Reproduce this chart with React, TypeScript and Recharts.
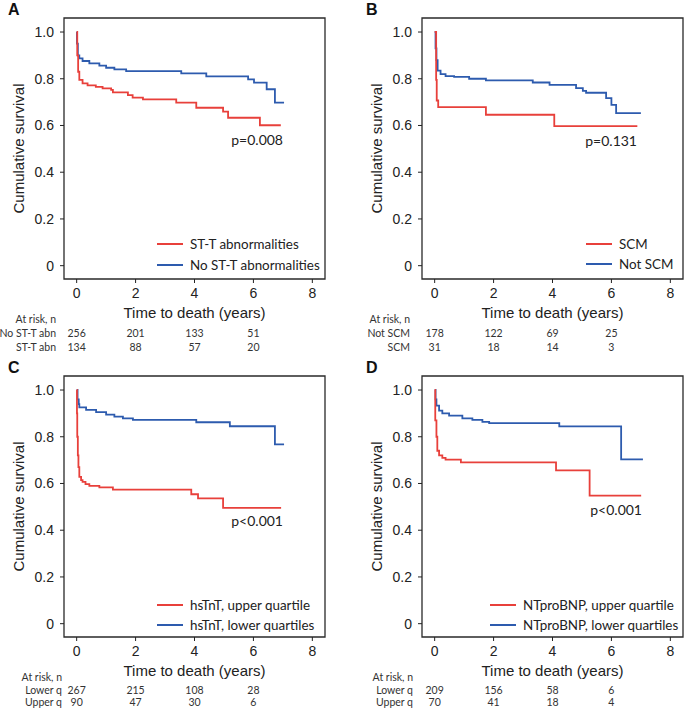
import { LineChart, Line, XAxis, YAxis, ReferenceArea, Legend } from "recharts";

// ---- axes ----
const X_TICKS = [0, 2, 4, 6, 8];
const Y_TICKS = [0, 0.2, 0.4, 0.6, 0.8, 1.0];
const X_DOMAIN: [number, number] = [-0.43, 8.43];
const Y_DOMAIN: [number, number] = [-0.057, 1.06];

// ---- A: ST-T abnormalities ----
const A_BLUE_T = [0, 0.01, 0.04, 0.09, 0.2, 0.43, 0.77, 1.0, 1.28, 1.68, 3.55, 4.4, 5.82, 6.02, 6.45, 6.73, 7.04];
const A_BLUE_S = [1.0, 0.95, 0.9, 0.887, 0.876, 0.866, 0.856, 0.847, 0.84, 0.833, 0.823, 0.81, 0.797, 0.783, 0.755, 0.698, 0.698];
const A_RED_T = [0, 0.02, 0.05, 0.09, 0.2, 0.37, 0.65, 0.88, 1.17, 1.23, 1.74, 1.9, 2.25, 3.38, 4.06, 4.97, 5.14, 6.22, 6.93];
const A_RED_S = [1.0, 0.9, 0.83, 0.795, 0.78, 0.772, 0.765, 0.759, 0.752, 0.742, 0.73, 0.719, 0.712, 0.698, 0.676, 0.659, 0.633, 0.601, 0.601];
const A_ROWS = ["No ST-T abn", "ST-T abn"];
const A_RISK_1 = [256, 201, 133, 51];
const A_RISK_2 = [134, 88, 57, 20];

// ---- B: SCM ----
const B_BLUE_T = [0, 0.03, 0.06, 0.1, 0.2, 0.37, 0.66, 1.17, 1.74, 3.33, 3.9, 4.8, 5.03, 5.14, 5.82, 6.0, 6.16, 7.0];
const B_BLUE_S = [1.0, 0.93, 0.88, 0.835, 0.82, 0.811, 0.808, 0.8, 0.793, 0.784, 0.774, 0.76, 0.748, 0.74, 0.717, 0.688, 0.653, 0.653];
const B_RED_T = [0, 0.05, 0.07, 0.12, 1.74, 4.06, 6.88];
const B_RED_S = [1.0, 0.795, 0.707, 0.679, 0.646, 0.597, 0.597];
const B_ROWS = ["Not SCM", "SCM"];
const B_RISK_1 = [178, 122, 69, 25];
const B_RISK_2 = [31, 18, 14, 3];

// ---- C: hsTnT ----
const C_BLUE_T = [0, 0.03, 0.07, 0.09, 0.32, 0.66, 1.0, 1.28, 1.57, 1.91, 4.06, 5.2, 6.73, 7.04];
const C_BLUE_S = [1.0, 0.96, 0.94, 0.926, 0.915, 0.905, 0.895, 0.886, 0.879, 0.872, 0.862, 0.845, 0.767, 0.767];
const C_RED_T = [0, 0.01, 0.02, 0.04, 0.06, 0.09, 0.15, 0.2, 0.3, 0.43, 0.77, 1.23, 3.89, 4.12, 4.97, 6.94];
const C_RED_S = [1.0, 0.9, 0.8, 0.72, 0.67, 0.628, 0.614, 0.607, 0.597, 0.59, 0.583, 0.574, 0.554, 0.536, 0.496, 0.496];
const C_ROWS = ["Lower q", "Upper q"];
const C_RISK_1 = [267, 215, 108, 28];
const C_RISK_2 = [90, 47, 30, 6];

// ---- D: NTproBNP ----
const D_BLUE_T = [0, 0.03, 0.06, 0.15, 0.26, 0.49, 0.94, 1.28, 1.62, 1.85, 4.23, 6.33, 7.07];
const D_BLUE_S = [1.0, 0.96, 0.933, 0.912, 0.9, 0.89, 0.879, 0.872, 0.864, 0.858, 0.844, 0.703, 0.703];
const D_RED_T = [0, 0.02, 0.06, 0.09, 0.15, 0.26, 0.37, 0.89, 4.12, 5.26, 7.01];
const D_RED_S = [1.0, 0.87, 0.8, 0.74, 0.72, 0.71, 0.702, 0.69, 0.656, 0.548, 0.548];
const D_ROWS = ["Lower q", "Upper q"];
const D_RISK_1 = [209, 156, 58, 6];
const D_RISK_2 = [70, 41, 18, 4];

const RED = "#E8403B";
const BLUE = "#2D5BAE";
const INK = "#222";
const ARIAL = "'Liberation Sans', Arial, sans-serif";
const CALIBRI = "Lato, 'Open Sans', sans-serif";

const TICK_SIZE = 4;
const TICK_MARGIN = 5;
const MAIN_AXIS_H = 34;
const HDR_H = 13;

const toPoints = (t: number[], s: number[]) => t.map((x, i) => ({ t: x, s: s[i] }));

type PanelProps = {
  letter: string;
  ox: number;
  oy: number;
  width: number;
  blue: { t: number; s: number }[];
  red: { t: number; s: number }[];
  blueName: string;
  redName: string;
  rows: string[];
  risk1: number[];
  risk2: number[];
  rowH: number;
  rowLabelOffset: number;
  pText: string;
  pRight: number;
  pY: number;
  legendX: number;
  legendY: number;
};

function LegendBox({ items }: { items: { name: string; color: string }[] }) {
  return (
    <div>
      {items.map((it) => (
        <div key={it.name} style={{ display: "flex", alignItems: "center", height: 20.5 }}>
          <div style={{ width: 26, height: 2, background: it.color }} />
          <span
            style={{ marginLeft: 7, fontFamily: CALIBRI, fontSize: 13.4, lineHeight: "20px", color: INK, whiteSpace: "nowrap" }}
          >
            {it.name}
          </span>
        </div>
      ))}
    </div>
  );
}

function Panel(p: PanelProps) {
  const height = 356;
  const bottom = height - 279 - MAIN_AXIS_H - HDR_H - 2 * p.rowH;
  const rowLabel = (value: string) => ({
    value,
    position: "left" as const,
    offset: p.rowLabelOffset,
    fontSize: 10.5,
    fill: "#333",
    fontFamily: CALIBRI,
  });

  // x tick label plus the at-risk counts below it, all at the axis' own tick x
  const renderTick = (props: any) => {
    const { x, y, payload } = props;
    const axisY = y - TICK_SIZE - TICK_MARGIN;
    const i = Math.round(payload.value / 2);
    const r1 = axisY + MAIN_AXIS_H + HDR_H + p.rowH / 2;
    const r2 = r1 + p.rowH;
    return (
      <g>
        <text x={x} y={y} dy="0.71em" textAnchor="middle" fontSize={14} fill={INK} fontFamily={ARIAL}>
          {payload.value}
        </text>
        {i < p.risk1.length && (
          <>
            <text x={x} y={r1} dy="0.35em" textAnchor="middle" fontSize={10.5} fill="#333" fontFamily={CALIBRI}>
              {p.risk1[i]}
            </text>
            <text x={x} y={r2} dy="0.35em" textAnchor="middle" fontSize={10.5} fill="#333" fontFamily={CALIBRI}>
              {p.risk2[i]}
            </text>
          </>
        )}
      </g>
    );
  };

  return (
    <div style={{ position: "absolute", left: p.ox, top: p.oy, width: p.width, height }}>
      <LineChart
        width={p.width}
        height={height}
        margin={{ top: 18, right: p.width - 325, left: 0, bottom }}
      >
        <XAxis
          xAxisId={0}
          type="number"
          dataKey="t"
          domain={X_DOMAIN}
          allowDataOverflow
          ticks={X_TICKS}
          height={MAIN_AXIS_H}
          axisLine={false}
          tickSize={TICK_SIZE}
          tickMargin={TICK_MARGIN}
          tickLine={{ stroke: INK }}
          tick={renderTick}
          label={{
            value: "Time to death (years)",
            position: "insideBottom",
            offset: -5,
            fontSize: 15,
            fill: INK,
            fontFamily: ARIAL,
          }}
        />
        <XAxis
          xAxisId="hdr"
          type="number"
          domain={X_DOMAIN}
          allowDataOverflow
          height={HDR_H}
          axisLine={false}
          tickLine={false}
          tick={false}
          label={rowLabel("At risk, n")}
        />
        <XAxis
          xAxisId="r1"
          type="number"
          domain={X_DOMAIN}
          allowDataOverflow
          height={p.rowH}
          axisLine={false}
          tickLine={false}
          tick={false}
          label={rowLabel(p.rows[0])}
        />
        <XAxis
          xAxisId="r2"
          type="number"
          domain={X_DOMAIN}
          allowDataOverflow
          height={p.rowH}
          axisLine={false}
          tickLine={false}
          tick={false}
          label={rowLabel(p.rows[1])}
        />
        <YAxis
          type="number"
          domain={Y_DOMAIN}
          allowDataOverflow
          ticks={Y_TICKS}
          width={64}
          axisLine={false}
          tickSize={4}
          tickMargin={6}
          tickLine={{ stroke: INK }}
          tick={{ fontSize: 14, fill: INK, fontFamily: ARIAL }}
          tickFormatter={(v: number) => (v === 0 ? "0" : v.toFixed(1))}
          label={{
            value: "Cumulative survival",
            angle: -90,
            position: "insideLeft",
            offset: 19,
            fontSize: 15,
            fill: INK,
            fontFamily: ARIAL,
            style: { textAnchor: "middle" },
          }}
        />
        <ReferenceArea
          x1={X_DOMAIN[0]}
          x2={X_DOMAIN[1]}
          y1={Y_DOMAIN[0]}
          y2={Y_DOMAIN[1]}
          fill="none"
          fillOpacity={0}
          stroke="#2a2a2a"
          strokeWidth={1.3}
          ifOverflow="visible"
        />
        <Line
          data={p.blue}
          dataKey="s"
          name={p.blueName}
          type="stepAfter"
          stroke={BLUE}
          strokeWidth={1.8}
          dot={false}
          activeDot={false}
          isAnimationActive={false}
        />
        <Line
          data={p.red}
          dataKey="s"
          name={p.redName}
          type="stepAfter"
          stroke={RED}
          strokeWidth={1.8}
          dot={false}
          activeDot={false}
          isAnimationActive={false}
        />
        <Legend
          layout="vertical"
          align="center"
          verticalAlign="middle"
          wrapperStyle={{ left: p.legendX, top: p.legendY, width: "auto", height: "auto" }}
          content={() => (
            <LegendBox
              items={[
                { name: p.redName, color: RED },
                { name: p.blueName, color: BLUE },
              ]}
            />
          )}
        />
      </LineChart>
      <div
        style={{
          position: "absolute",
          left: 8,
          top: 2,
          fontFamily: ARIAL,
          fontWeight: "bold",
          fontSize: 16,
          lineHeight: "16px",
          color: "#111",
        }}
      >
        {p.letter}
      </div>
      <div
        style={{
          position: "absolute",
          right: p.width - p.pRight,
          top: p.pY - 8.4,
          fontFamily: CALIBRI,
          fontSize: 14,
          lineHeight: "16px",
          color: INK,
          whiteSpace: "nowrap",
        }}
      >
        {p.pText}
      </div>
    </div>
  );
}

export default function App() {
  return (
    <div style={{ position: "absolute", left: 0, top: 0, width: 685, height: 710, background: "#fff" }}>
      <Panel
        letter="A"
        ox={0}
        oy={0}
        width={340}
        blue={toPoints(A_BLUE_T, A_BLUE_S)}
        red={toPoints(A_RED_T, A_RED_S)}
        blueName="No ST-T abnormalities"
        redName="ST-T abnormalities"
        rows={A_ROWS}
        risk1={A_RISK_1}
        risk2={A_RISK_2}
        rowH={14}
        rowLabelOffset={8}
        pText="p=0.008"
        pRight={283}
        pY={140}
        legendX={157}
        legendY={234}
      />
      <Panel
        letter="B"
        ox={358}
        oy={0}
        width={327}
        blue={toPoints(B_BLUE_T, B_BLUE_S)}
        red={toPoints(B_RED_T, B_RED_S)}
        blueName="Not SCM"
        redName="SCM"
        rows={B_ROWS}
        risk1={B_RISK_1}
        risk2={B_RISK_2}
        rowH={14}
        rowLabelOffset={12}
        pText="p=0.131"
        pRight={279}
        pY={141.7}
        legendX={228}
        legendY={233.5}
      />
      <Panel
        letter="C"
        ox={0}
        oy={358}
        width={340}
        blue={toPoints(C_BLUE_T, C_BLUE_S)}
        red={toPoints(C_RED_T, C_RED_S)}
        blueName="hsTnT, lower quartiles"
        redName="hsTnT, upper quartile"
        rows={C_ROWS}
        risk1={C_RISK_1}
        risk2={C_RISK_2}
        rowH={12}
        rowLabelOffset={2}
        pText="p<0.001"
        pRight={283}
        pY={163.7}
        legendX={157}
        legendY={236.7}
      />
      <Panel
        letter="D"
        ox={358}
        oy={358}
        width={327}
        blue={toPoints(D_BLUE_T, D_BLUE_S)}
        red={toPoints(D_RED_T, D_RED_S)}
        blueName="NTproBNP, lower quartiles"
        redName="NTproBNP, upper quartile"
        rows={D_ROWS}
        risk1={D_RISK_1}
        risk2={D_RISK_2}
        rowH={12}
        rowLabelOffset={9}
        pText="p<0.001"
        pRight={284}
        pY={152}
        legendX={132}
        legendY={236.7}
      />
    </div>
  );
}
